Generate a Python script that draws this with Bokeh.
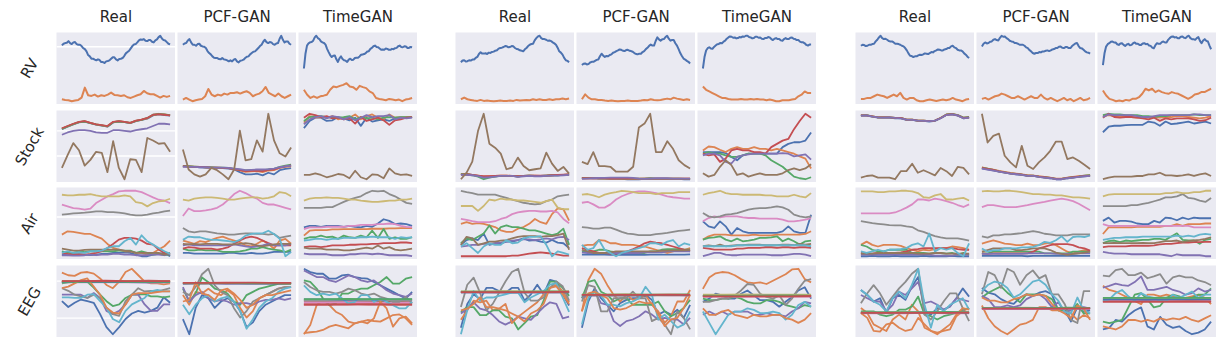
import numpy as np
from bokeh.plotting import figure
from bokeh.layouts import row, column
from bokeh.models import Spacer, Span
from bokeh.embed import file_html
from bokeh.resources import INLINE
from bokeh.core.properties import value

COLORS = {"blue": "#4C72B0", "orange": "#DD8452", "green": "#55A868", "red": "#C44E52",
          "purple": "#8172B3", "brown": "#937860", "pink": "#DA8BC3", "gray": "#8C8C8C",
          "olive": "#CCB974", "cyan": "#64B5CD"}

row_names = ["RV", "Stock", "Air", "EEG"]
col_names = ["Real", "PCF-GAN", "TimeGAN"]

# ---------------- Group 1 ----------------
g1_rv_real = {
    "blue": [192,197,199,200,205,199,196,201,202,196,194,194,190,184,181,174,163,159,152,152,149,147,150,148,142,142,139,144,145,147,152,156,156,150,147,151,152,154,160,168,172,176,183,190,195,196,201,207,210,209,211,206,205,208,208,203,201,207,210,217,221,213,208,207,202,197,195],
    "orange": [30,28,27,24,26,28,35,65,42,40,44,38,42,40,44,50,43,42,40,42,36,34,38,42,45,55,48,45,45,40,35,40,37,40],
}
g1_rv_pcf = {
    "blue": [195,199,200,208,212,202,195,195,192,197,198,192,190,189,185,176,170,166,160,156,155,155,152,151,155,151,150,148,145,148,145,150,152,145,142,147,148,150,155,159,160,166,170,174,175,180,185,191,195,204,210,203,200,203,202,197,195,199,200,213,222,210,202,205,205,198,195],
    "orange": [30,35,30,25,28,30,32,40,62,45,40,45,42,48,45,50,50,52,48,52,55,50,40,45,48,55,68,50,45,40,48,40,35,40,45],
}
g1_rv_tg = {
    "blue": [125,170,195,202,205,206,210,220,225,218,215,208,205,203,198,185,175,166,160,164,165,153,145,156,162,154,150,149,145,152,155,151,152,157,158,158,162,167,168,169,172,177,178,185,188,193,195,191,190,186,182,183,182,186,185,182,182,185,184,187,188,193,195,191,190,193,192,188,188,191,190],
    "orange": [60,45,35,40,35,40,42,45,60,70,68,72,75,80,70,68,60,72,68,65,55,50,35,32,30,28,32,30,28,30,25,30,32,35],
}
g1_stock_real = {
    "blue": [175,183,190,196,199,194,189,186,183,196,199,197,194,200,204,208,218,221,219,217],
    "orange": [177,184,191,197,200,195,190,187,184,197,200,198,195,201,205,209,219,222,221,218],
    "green": [176,184,191,197,199,194,190,187,184,197,199,197,195,201,204,210,220,223,221,219],
    "red": [178,185,192,198,200,195,190,188,185,198,200,198,195,202,205,210,220,222,220,218],
    "purple": [158,165,170,172,172,170,165,164,164,172,172,170,168,172,175,178,185,192,192,190],
    "brown": [55,95,132,110,62,80,105,102,42,138,55,20,82,80,42,148,140,130,132,105],
}
g1_stock_pcf = {
    "blue": [60,59,58,57,56,55,55,54,53,50,42,35,35,37,32,40,35,48,52,54],
    "orange": [61,60,59,58,57,56,56,55,54,51,47,43,44,45,42,47,48,55,58,60],
    "green": [61,60,59,58,57,57,56,56,55,52,49,47,48,48,47,50,52,58,62,65],
    "red": [60,59,58,58,57,56,56,55,54,51,48,45,46,46,45,49,50,56,60,63],
    "purple": [59,58,58,57,57,56,56,56,55,53,51,48,49,50,50,51,53,57,60,62],
    "brown": [112,50,35,28,35,55,48,35,20,50,170,78,82,140,105,222,140,100,90,118],
}
g1_stock_tg = {
    "blue": [178,200,210,210,200,202,212,208,202,210,185,210,198,202,205,200,208,210,210,212],
    "orange": [195,215,210,212,210,215,205,210,210,220,205,215,220,210,205,220,210,212,212,212],
    "green": [200,212,215,215,212,210,210,212,215,205,212,208,210,205,210,212,210,212,212,212],
    "red": [210,222,218,212,215,208,210,205,208,192,212,200,205,210,202,188,202,205,210,212],
    "purple": [190,205,212,215,208,215,212,205,212,202,210,218,212,215,215,218,205,210,208,210],
    "brown": [35,35,40,35,28,32,38,35,25,48,28,22,37,35,25,55,40,35,37,32],
}
g1_air_real = {
    "blue": [30,28,32,30,30,28,30,32,32,35,35,37,35,30,25,25,30,32,35,25],
    "orange": [90,100,98,95,92,92,85,78,62,50,45,40,40,35,35,30,35,45,55,72],
    "green": [40,35,35,40,37,40,40,40,40,40,42,42,42,35,40,35,30,32,28,30],
    "red": [35,32,30,32,30,32,35,40,50,62,75,80,80,78,72,62,60,45,35,30],
    "purple": [28,28,27,27,28,30,28,30,30,32,32,30,30,28,28,28,30,30,28,32],
    "brown": [48,45,42,42,44,45,45,45,45,45,45,42,40,35,35,35,35,35,30,35],
    "pink": [180,175,170,168,165,168,185,195,205,212,220,222,222,222,218,210,202,195,192,185],
    "gray": [150,152,154,155,156,158,160,160,158,158,156,154,150,148,148,150,154,156,160,162],
    "olive": [210,208,208,210,210,212,208,205,205,205,205,208,205,188,185,175,185,190,192,198],
    "cyan": [35,40,35,37,35,40,40,42,50,55,55,70,80,60,88,70,60,50,40,32],
}
g1_air_pcf = {
    "blue": [32,32,30,30,30,30,30,30,32,32,30,30,32,30,30,32,35,35,35,35],
    "orange": [70,65,60,68,65,72,78,82,75,70,65,55,52,60,70,60,45,70,75,60],
    "green": [45,40,40,42,40,40,40,35,35,35,37,40,45,45,50,45,42,40,35,42],
    "red": [45,50,48,45,45,45,42,45,50,60,70,78,82,78,70,62,55,55,55,55],
    "purple": [55,58,55,55,55,55,55,55,55,58,55,52,50,52,55,60,55,55,55,60],
    "brown": [60,58,60,58,60,60,60,58,58,58,60,62,60,55,52,55,58,60,60,60],
    "pink": [145,168,160,160,162,165,170,180,195,212,222,215,205,198,185,180,180,175,170,165],
    "gray": [108,98,95,98,98,95,92,90,88,88,90,92,92,90,90,88,90,78,82,85],
    "olive": [195,192,198,200,202,202,200,198,195,195,198,200,202,202,198,200,205,218,215,205],
    "cyan": [72,82,80,80,75,72,72,70,68,65,72,85,90,92,92,100,90,75,22,35],
}
g1_air_tg = {
    "blue": [110,115,115,112,115,115,115,112,115,112,110,115,112,122,135,130,120,122,120,115],
    "orange": [85,100,102,102,102,104,104,105,105,105,105,105,106,106,106,107,107,108,108,108],
    "green": [75,80,80,85,80,82,75,85,80,78,85,80,100,78,105,75,80,75,75,80],
    "red": [50,52,52,50,52,55,55,55,57,57,58,58,60,60,62,62,62,64,64,62],
    "purple": [30,28,28,28,28,25,25,25,28,28,30,30,28,30,28,25,25,25,25,22],
    "brown": [48,45,45,45,42,42,42,40,40,42,45,48,45,55,45,50,42,40,42,45],
    "pink": [105,110,110,110,112,112,112,112,115,115,118,118,118,120,120,122,120,115,112,110],
    "gray": [170,170,170,170,172,172,180,188,195,200,205,215,222,220,222,212,205,195,185,182],
    "olive": [192,198,200,200,202,200,200,198,195,195,192,190,188,188,190,192,192,195,195,198],
    "cyan": [70,72,75,75,72,75,75,78,78,78,80,80,82,80,80,80,75,80,78,80],
}
g1_eeg_real = {
    "blue": [120,102,115,125,120,115,80,40,18,40,65,82,90,85,90,100,132,115],
    "orange": [208,200,198,208,210,205,190,170,160,180,210,220,200,180,175,175,172,175],
    "green": [175,178,180,180,180,162,140,120,105,110,130,140,140,142,135,135,132,135],
    "red": [182,182,181,182,183,182],
    "purple": [140,140,140,140,130,145,130,90,80,90,110,140,140,110,90,90,110,110],
    "brown": [180,180,179,180,181,180],
    "pink": [178,178,179,178,177,178],
    "gray": [160,152,140,135,130,140,130,100,80,75,120,140,160,150,152,150,155,160],
    "olive": [181,181,182,181,180,181],
    "cyan": [132,132,130,130,140,142,120,100,65,55,90,110,120,130,150,155,150,150],
    "blue2": [179,180,179,179,178,179],
    "orange2": [160,165,175,185,190,165,140,100,85,82,110,140,145,145,145,148,150,150],
    "green2": [180,180,181,180,180,180],
    "red2": [182,182,183,182,182,182],
}
g1_eeg_pcf = {
    "blue": [65,18,100,140,130,100,120,130,120,90,40,55,90,110,120,130,140,140],
    "orange": [140,110,150,145,160,145,140,155,140,100,70,90,130,140,150,160,165,165],
    "green": [160,120,145,195,180,160,155,145,120,110,140,150,160,165,170,175,175,175],
    "red": [178,178,179,178,177,178],
    "purple": [165,120,140,150,130,120,125,120,110,115,115,110,120,125,125,130,125,130],
    "brown": [176,176,177,176,176,176],
    "pink": [177,177,176,177,177,177],
    "gray": [150,140,165,205,222,170,150,140,100,70,90,120,130,140,150,160,165,165],
    "olive": [177,178,177,177,178,177],
    "cyan": [110,80,110,130,140,120,130,135,120,90,35,65,100,120,130,150,160,165],
    "blue2": [176,177,176,176,176,177],
    "orange2": [120,125,180,145,140,125,155,160,145,125,100,110,130,140,140,145,150,155],
    "green2": [177,177,178,177,177,177],
    "red2": [178,178,178,179,178,178],
}
g1_eeg_tg = {
    "blue": [220,210,205,205,190,190,200,202,195,192,190,180,170,160,150,140,130,150],
    "orange": [22,50,110,125,110,90,80,60,55,60,65,62,60,70,80,82,70,50],
    "green": [185,180,160,130,110,115,145,145,155,160,160,170,180,195,175,175,190,195],
    "red": [112,112,113,112,112,112],
    "purple": [215,205,195,195,185,180,190,200,195,185,180,185,170,155,145,140,135,145],
    "brown": [122,122,121,122,123,122],
    "pink": [118,118,119,118,117,118],
    "gray": [180,165,155,150,150,145,150,160,155,145,140,145,135,130,120,120,135,115],
    "olive": [125,125,126,125,125,126],
    "cyan": [170,150,140,145,140,145,130,115,120,140,140,120,130,120,110,100,100,120],
    "blue2": [127,127,126,127,127,127],
    "orange2": [25,28,30,35,45,50,45,40,55,60,55,70,120,100,45,70,75,55],
    "green2": [128,128,129,128,128,128],
    "red2": [112,112,112,113,112,112],
}

# ---------------- Group 2 ----------------
g2_rv_real = {
    "blue": [142,147,148,144,145,148,147,150,150,155,158,167,172,168,168,169,167,171,170,173,174,177,178,183,185,186,188,191,190,187,188,191,190,185,182,181,178,177,175,181,185,191,195,197,198,208,215,220,222,215,212,212,210,207,208,206,202,199,195,186,175,171,165,155,148,146,142],
    "orange": [30,35,30,28,26,25,28,25,26,25,24,25,26,25,25,26,25,28,26,27,28,27,30,28,30,28,28,30,28,30,30,32,30,32],
}
g2_rv_pcf = {
    "blue": [135,139,140,137,138,143,145,145,148,151,152,162,170,164,160,163,162,166,168,173,175,178,180,183,182,179,178,181,182,179,178,176,172,169,168,170,170,175,178,184,188,194,198,195,195,209,220,214,210,214,215,221,225,216,210,212,212,202,195,184,172,163,155,152,148,145,140],
    "orange": [30,45,35,30,30,28,28,26,25,26,25,24,25,25,26,25,25,25,26,28,27,30,28,27,28,30,32,30,35,32,30,28,30,28],
}
g2_rv_tg = {
    "blue": [125,160,180,187,190,186,185,191,195,199,200,203,202,207,210,216,220,223,222,219,220,217,218,221,220,223,222,225,225,221,220,217,218,222,222,219,220,216,215,218,218,221,220,215,212,216,218,215,215,211,210,215,218,215,215,219,220,216,215,212,212,207,205,205,202,197,195,198,198],
    "orange": [70,60,55,50,45,40,35,35,32,30,30,30,32,30,30,32,30,32,30,30,28,30,28,25,25,28,28,28,30,32,40,45,55,50,50],
}
g2_stock_real = {
    "blue": [40,40,38,35,30,32,34,35,35,35,33,35,36,35,35,36,37,37,38,38],
    "orange": [40,40,38,36,33,34,35,36,36,35,34,35,36,36,35,36,37,38,38,39],
    "green": [40,40,37,33,25,30,33,35,35,35,34,35,36,35,35,36,37,37,38,39],
    "red": [39,40,38,36,34,34,35,36,36,35,34,35,36,36,36,36,37,38,39,40],
    "purple": [38,38,37,34,30,31,33,35,35,35,32,34,35,34,34,35,36,36,37,38],
    "brown": [25,45,78,170,222,132,120,102,55,60,90,65,52,55,58,105,72,50,62,42],
}
g2_stock_pcf = {
    "blue": [26,26,25,24,24,23,23,23,22,22,22,23,24,23,23,23,23,23,22,22],
    "orange": [25,25,25,25,24,24,24,24,23,23,23,24,24,24,24,24,24,24,24,24],
    "green": [26,26,26,25,25,25,25,24,24,24,24,24,25,24,24,24,24,24,23,23],
    "red": [25,25,25,25,25,24,24,24,24,24,24,24,24,24,24,24,24,24,24,24],
    "purple": [23,24,25,26,26,27,27,27,27,26,24,23,24,25,25,25,24,24,24,24],
    "brown": [75,68,105,62,62,60,45,45,45,60,180,192,222,105,105,138,115,80,65,55],
}
g2_stock_tg = {
    "blue": [105,105,105,105,102,90,80,95,100,100,100,100,100,100,120,130,135,135,140,165],
    "orange": [110,122,120,112,105,115,120,115,115,120,115,115,110,115,110,105,100,92,85,55],
    "green": [100,105,100,100,95,90,90,95,100,100,100,95,80,70,60,45,30,25,22,28],
    "red": [100,95,98,75,85,110,115,110,110,105,105,100,120,130,140,145,175,200,222,210],
    "purple": [95,100,100,95,75,70,90,95,98,100,100,100,100,100,102,100,92,95,98,82],
    "brown": [40,30,35,60,80,65,35,40,30,35,40,35,35,35,40,50,55,50,55,68],
}
g2_air_real = {
    "blue": [55,70,75,70,90,55,60,60,65,65,70,75,68,70,65,62,70,62,60,45],
    "orange": [120,125,120,122,120,115,110,100,95,95,105,110,120,135,125,120,150,168,165,130],
    "green": [60,75,70,80,90,115,90,110,115,110,110,105,100,100,95,90,85,90,105,55],
    "red": [20,20,20,20,20,20,20,20,20,22,22,25,28,30,32,30,28,25,22,22],
    "purple": [50,52,55,55,58,58,60,62,65,68,70,72,72,70,72,75,72,78,80,70],
    "brown": [55,80,75,55,60,65,65,68,70,75,80,82,82,82,80,82,82,85,90,40],
    "pink": [135,132,128,125,125,125,128,135,140,150,155,158,160,160,158,158,160,155,135,122],
    "gray": [222,218,215,210,210,210,210,205,200,195,190,185,182,180,182,190,195,205,208,210],
    "olive": [175,175,175,160,175,195,192,198,195,195,192,192,190,188,185,190,195,170,165,165],
    "cyan": [50,60,45,30,50,60,55,55,70,60,62,75,80,80,82,55,20,35,30,25],
}
g2_air_pcf = {
    "blue": [25,25,25,25,25,24,24,24,24,24,24,24,25,25,25,25,25,25,25,26],
    "orange": [52,55,55,70,68,60,60,55,55,55,52,50,45,40,35,30,35,40,40,45],
    "green": [35,35,35,40,40,35,32,30,30,30,30,30,35,35,40,42,42,42,40,40],
    "red": [45,40,35,30,30,28,28,30,35,42,50,60,65,62,60,55,50,45,40,35],
    "purple": [32,30,30,30,30,30,30,30,30,30,30,32,32,32,32,35,35,35,35,35],
    "brown": [40,35,30,30,30,32,35,35,35,35,35,35,35,35,37,37,38,38,38,40],
    "pink": [185,188,180,170,170,180,195,205,212,218,220,220,218,215,210,205,202,200,198,198],
    "gray": [110,108,105,105,108,108,102,95,90,88,85,85,85,88,90,92,95,98,100,102],
    "olive": [210,212,208,202,210,215,218,222,220,218,215,215,215,212,215,215,215,218,218,218],
    "cyan": [55,40,45,70,40,30,20,30,35,40,45,50,60,60,55,65,70,50,60,55],
}
g2_air_tg = {
    "blue": [130,115,110,130,115,90,110,100,95,95,95,95,95,95,100,115,100,95,95,150],
    "orange": [75,85,90,90,90,88,88,88,88,90,88,88,88,90,90,90,90,90,92,100],
    "green": [75,80,82,85,75,70,78,70,72,75,80,80,82,85,70,78,70,60,70,72],
    "red": [50,48,45,45,45,45,48,48,50,50,50,52,52,50,52,52,50,52,52,50],
    "purple": [25,30,35,35,30,28,28,30,30,30,30,30,28,28,28,30,32,32,30,25],
    "brown": [55,58,55,60,55,57,58,58,60,60,60,58,58,58,60,60,58,62,60,62],
    "pink": [130,140,145,142,145,145,145,142,140,140,138,138,138,138,135,130,130,132,135,140],
    "gray": [155,145,142,145,150,152,155,160,165,168,170,170,172,175,172,165,150,145,142,145],
    "olive": [210,215,218,222,215,212,212,210,210,210,210,208,208,205,205,205,210,205,202,215],
    "cyan": [55,55,55,55,55,55,58,58,58,58,58,58,58,58,58,58,58,58,58,55],
}
g2_eeg_real = {
    "blue": [35,110,140,125,160,160,150,145,160,160,120,140,170,140,185,180,140,105],
    "orange": [60,90,120,115,120,90,95,90,80,70,85,100,115,140,160,170,150,115],
    "green": [85,100,100,75,75,90,90,70,65,30,50,70,75,120,180,180,160,135],
    "red": [147,147,148,147,147,147],
    "purple": [80,95,115,95,90,75,55,45,55,70,65,60,80,100,115,110,65,70],
    "brown": [146,146,145,146,146,146],
    "pink": [146,147,146,146,146,147],
    "gray": [100,170,192,145,90,110,145,180,210,220,145,120,120,130,160,180,165,120],
    "olive": [149,149,150,149,149,149],
    "cyan": [15,90,150,120,130,130,135,140,145,145,115,130,140,150,170,175,130,85],
    "blue2": [146,146,146,147,146,146],
    "orange2": [90,95,110,130,100,100,95,110,50,70,55,80,90,110,160,165,140,110],
    "green2": [148,148,148,148,149,148],
    "red2": [147,147,147,147,147,148],
}
g2_eeg_pcf = {
    "blue": [40,120,160,130,110,90,115,125,130,130,140,125,80,90,80,95,70,110],
    "orange": [90,185,220,205,170,140,120,140,125,130,140,110,90,55,75,120,120,155],
    "green": [130,180,185,150,140,120,130,130,110,110,110,110,120,90,75,85,100,125],
    "red": [140,140,141,140,140,140],
    "purple": [130,140,150,115,110,60,45,60,65,75,90,80,65,70,65,65,50,70],
    "brown": [139,139,138,139,139,139],
    "pink": [139,139,139,140,139,139],
    "gray": [120,170,165,90,90,130,130,130,150,130,130,60,70,50,20,90,70,35],
    "olive": [141,141,142,141,141,141],
    "cyan": [50,130,150,140,110,110,105,115,120,130,165,140,65,80,60,40,50,90],
    "blue2": [139,139,139,139,140,139],
    "orange2": [90,145,150,140,130,100,95,100,110,120,115,115,80,45,65,70,100,140],
    "green2": [141,141,141,141,141,142],
    "red2": [140,140,140,140,141,140],
}
g2_eeg_tg = {
    "blue": [120,130,145,140,130,130,145,155,140,125,125,120,105,120,135,155,165,130],
    "orange": [160,195,208,212,210,202,190,180,178,180,175,185,195,205,220,222,190,180],
    "green": [130,125,125,130,130,135,130,120,115,115,125,125,120,110,105,100,110,105],
    "red": [137,137,138,137,137,137],
    "purple": [80,90,80,90,80,90,90,90,80,80,85,80,80,75,90,100,120,115],
    "brown": [139,139,140,139,139,139],
    "pink": [136,136,136,137,136,136],
    "gray": [120,120,125,130,130,140,155,175,172,145,135,130,140,110,130,160,185,190],
    "olive": [142,142,143,142,142,142],
    "cyan": [90,55,20,50,80,90,90,100,95,85,85,90,85,65,80,110,120,105],
    "blue2": [138,138,138,139,138,138],
    "orange2": [100,80,80,90,95,80,75,70,80,75,75,80,80,70,65,55,65,85],
    "green2": [139,139,139,139,140,139],
    "red2": [137,137,137,137,137,138],
}

# ---------------- Group 3 ----------------
g3_rv_real = {
    "blue": [192,195,194,191,192,195,195,197,198,205,210,217,222,215,212,213,210,206,205,205,202,198,198,197,195,192,190,185,178,169,162,161,158,160,160,163,165,164,166,169,168,167,170,173,172,176,178,181,180,178,178,181,182,185,185,190,192,187,185,180,178,178,175,169,165,159,155],
    "orange": [32,32,35,35,40,45,42,40,35,40,45,40,50,35,30,35,35,28,25,25,28,30,28,26,28,30,28,30,35,30,28,25,30,32],
}
g3_rv_pcf = {
    "blue": [190,198,202,199,200,204,205,210,212,209,208,216,222,219,220,215,212,207,205,204,200,200,198,195,195,195,192,187,185,179,175,170,168,170,170,173,172,175,175,177,178,176,178,181,182,185,185,189,190,186,185,188,188,185,185,191,195,199,200,191,185,184,180,175,172,171,168],
    "orange": [32,35,30,35,40,42,48,45,40,35,35,40,35,30,35,40,35,35,45,35,30,35,30,25,30,35,28,32,25,30,35,28,30,35],
}
g3_rv_tg = {
    "blue": [135,170,190,197,200,204,205,202,202,197,195,199,200,195,192,196,198,194,195,200,202,198,198,195,195,199,200,197,198,193,192,187,185,194,200,198,198,203,205,202,202,210,215,219,220,217,218,215,215,219,220,216,215,220,222,215,212,212,210,215,218,207,200,208,212,207,205,193,182],
    "orange": [60,45,35,32,28,30,28,32,30,35,35,40,50,65,60,65,55,60,55,52,50,55,52,50,45,40,35,40,48,50,55,55,60,65],
}
g3_stock_real = {
    "blue": [217,217,214,211,211,211,209,209,204,204,201,201,199,201,209,219,221,217,209,211],
    "orange": [218,218,215,212,212,212,210,210,205,205,202,202,200,202,210,220,223,219,211,212],
    "green": [218,219,215,212,212,212,210,210,205,205,202,202,200,202,210,221,223,219,211,213],
    "red": [218,218,215,212,212,212,210,210,205,205,202,202,200,202,210,220,222,218,210,212],
    "purple": [217,218,214,212,211,212,210,209,205,204,202,201,200,202,209,219,221,218,209,211],
    "brown": [25,30,32,25,25,25,20,45,45,68,40,48,40,32,55,45,30,58,55,35],
}
g3_stock_pcf = {
    "blue": [57,54,51,47,44,41,39,37,34,34,31,29,27,24,24,27,29,31,33,34],
    "orange": [60,56,53,49,46,43,41,39,36,35,33,31,29,26,26,29,31,33,35,36],
    "green": [59,56,52,48,45,42,40,38,35,35,32,30,28,25,25,28,30,32,35,36],
    "red": [58,55,52,48,45,42,40,38,35,35,32,30,28,25,25,28,30,32,34,35],
    "purple": [56,53,50,47,44,41,39,37,34,34,31,29,27,24,24,27,29,31,33,34],
    "brown": [222,135,155,162,95,75,60,125,65,55,75,90,110,138,138,85,90,80,68,55],
}
g3_stock_tg = {
    "blue": [165,182,185,185,187,188,188,188,198,195,185,198,190,192,195,198,192,195,198,192],
    "orange": [215,218,215,215,215,212,210,212,210,212,210,212,212,215,215,212,210,208,210,215],
    "green": [218,222,220,220,218,218,218,215,215,212,215,215,218,218,218,218,220,218,218,218],
    "red": [210,222,212,210,212,212,210,208,205,210,200,208,205,208,208,208,205,200,202,210],
    "purple": [212,220,218,218,218,218,215,212,212,215,218,218,218,218,218,218,220,220,218,218],
    "brown": [20,25,28,28,28,28,30,30,35,35,40,32,32,30,32,35,30,35,38,30],
}
g3_air_real = {
    "blue": [20,20,21,20,20,20,21,20,20,20,20,21,20,20,20,20,21,20,20,20],
    "orange": [55,65,55,50,55,55,55,52,45,40,35,40,38,42,45,45,50,48,45,40],
    "green": [55,50,40,35,35,40,40,40,40,30,30,30,28,30,30,28,30,25,30,25],
    "red": [30,28,28,30,30,30,30,32,35,40,42,45,45,45,45,45,45,42,40,40],
    "purple": [25,25,25,25,25,25,25,25,25,25,25,25,25,22,22,22,22,25,25,25],
    "brown": [28,28,28,30,30,30,30,30,30,30,28,28,28,30,30,28,28,28,28,28],
    "pink": [152,152,152,152,152,152,155,162,170,180,195,195,192,198,195,190,185,178,172,180],
    "gray": [128,125,122,120,118,116,115,115,112,110,100,95,88,82,78,75,75,75,72,68],
    "olive": [220,220,220,218,218,220,220,222,222,220,215,202,200,208,212,195,195,198,200,192],
    "cyan": [35,30,35,40,35,40,40,42,45,55,60,50,90,35,45,40,45,30,20,60],
}
g3_air_pcf = {
    "blue": [22,22,22,23,22,22,22,22,21,22,22,22,22,22,23,22,22,22,22,22],
    "orange": [60,65,70,65,60,58,55,55,60,55,55,60,62,55,45,35,30,35,40,35],
    "green": [30,30,35,35,35,35,35,35,35,35,35,30,30,30,30,30,35,35,35,35],
    "red": [30,28,30,30,30,30,30,30,30,35,45,50,55,58,58,58,55,48,45,38],
    "purple": [28,28,28,28,28,28,28,28,30,30,30,30,30,28,28,28,28,30,30,30],
    "brown": [35,40,45,45,45,45,40,40,42,45,45,45,40,32,28,25,28,30,32,35],
    "pink": [172,178,178,175,172,172,172,175,178,182,185,188,192,195,198,195,190,182,172,162],
    "gray": [82,78,85,85,88,88,90,92,95,98,95,90,88,85,85,85,88,88,88,88],
    "olive": [220,222,220,220,222,222,220,218,215,212,212,210,210,208,208,205,202,202,200,198],
    "cyan": [45,35,40,40,45,45,45,48,48,50,55,65,62,70,82,65,80,82,80,85],
}
g3_air_tg = {
    "blue": [130,140,125,130,130,128,122,120,120,130,125,140,138,132,140,135,140,138,138,138],
    "orange": [90,110,110,110,110,110,112,112,112,112,112,115,115,120,115,120,120,120,122,122],
    "green": [62,68,70,65,70,68,70,72,72,75,75,72,82,92,72,70,70,60,72,75],
    "red": [50,52,52,52,52,54,54,54,54,55,58,60,60,62,64,64,65,65,66,66],
    "purple": [35,32,30,30,30,28,28,28,28,28,28,25,22,28,25,25,25,25,22,22],
    "brown": [62,62,63,62,62,62,62,63,62,62,65,68,68,70,65,68,70,72,75,80],
    "pink": [120,115,115,115,115,115,115,115,115,115,115,115,115,115,115,115,110,110,110,110],
    "gray": [175,175,175,175,175,178,178,182,185,190,195,202,202,205,212,200,198,192,188,200],
    "olive": [205,210,212,212,212,212,212,212,212,212,212,215,215,218,215,215,218,218,222,222],
    "cyan": [72,75,78,78,80,80,80,82,82,82,82,82,82,85,82,85,82,88,90,88],
}
g3_eeg_real = {
    "blue": [155,140,120,130,85,130,140,125,165,195,90,80,100,95,105,130,160,135],
    "orange": [100,85,50,40,30,65,80,65,110,90,40,30,25,30,35,75,90,100],
    "green": [90,90,90,80,75,80,95,95,105,135,80,75,65,75,80,85,95,100],
    "red": [85,85,86,85,85,85],
    "purple": [140,130,120,120,90,110,150,140,160,180,115,120,110,95,105,130,125,120],
    "brown": [86,86,85,86,86,86],
    "pink": [84,84,84,85,84,84],
    "gray": [115,145,170,145,110,135,160,180,205,220,80,65,90,120,145,145,100,60],
    "olive": [87,87,88,87,87,87],
    "cyan": [155,140,120,110,90,130,150,130,170,220,110,40,110,90,110,120,130,95],
    "blue2": [86,86,86,87,86,86],
    "orange2": [85,70,30,28,50,55,40,30,35,70,50,30,20,35,50,80,100,95],
    "green2": [87,87,87,87,88,87],
    "red2": [85,85,85,85,85,86],
}
g3_eeg_pcf = {
    "blue": [160,145,140,125,115,110,130,140,135,145,150,140,90,90,55,100,85,90],
    "orange": [105,65,40,25,15,30,45,50,60,100,100,90,90,90,80,60,75,65],
    "green": [130,145,155,165,145,130,115,140,140,140,135,125,90,90,90,110,80,80],
    "red": [95,95,96,95,95,95],
    "purple": [135,125,100,100,105,100,105,125,135,140,125,100,115,85,90,100,100,95],
    "brown": [96,96,95,96,96,96],
    "pink": [94,94,94,95,94,94],
    "gray": [140,210,200,160,220,210,170,200,215,190,200,140,140,110,60,50,150,150],
    "olive": [97,97,98,97,97,97],
    "cyan": [150,170,180,175,160,130,140,160,180,185,170,140,120,85,80,130,90,80],
    "blue2": [96,96,96,97,96,96],
    "orange2": [130,120,120,115,115,125,130,140,135,140,135,110,90,80,65,105,95,60],
    "green2": [97,97,97,97,98,97],
    "red2": [95,95,95,95,95,96],
}
g3_eeg_tg = {
    "blue": [30,35,60,55,75,90,100,40,30,70,45,35,40,25,15,20,30,55],
    "orange": [168,155,150,140,130,120,110,140,140,135,140,135,130,130,135,140,130,110],
    "green": [55,50,55,60,100,140,145,125,100,105,130,140,135,125,130,140,140,160],
    "red": [118,118,119,118,118,118],
    "purple": [162,168,175,170,168,180,198,155,155,160,165,155,150,140,145,160,150,155],
    "brown": [122,122,121,122,123,122],
    "pink": [120,120,121,120,119,120],
    "gray": [200,198,218,222,202,202,210,192,198,205,175,195,200,195,195,185,180,170],
    "olive": [128,128,129,128,128,129],
    "cyan": [120,125,145,155,135,120,145,135,130,120,120,140,130,140,150,130,140,140],
    "blue2": [125,125,124,125,125,125],
    "orange2": [40,35,30,40,60,60,55,60,55,65,60,65,62,70,60,55,65,75],
    "green2": [130,130,130,131,130,130],
    "red2": [118,118,118,118,119,118],
}

groups = [
    {"RV": [g1_rv_real, g1_rv_pcf, g1_rv_tg], "Stock": [g1_stock_real, g1_stock_pcf, g1_stock_tg],
     "Air": [g1_air_real, g1_air_pcf, g1_air_tg], "EEG": [g1_eeg_real, g1_eeg_pcf, g1_eeg_tg]},
    {"RV": [g2_rv_real, g2_rv_pcf, g2_rv_tg], "Stock": [g2_stock_real, g2_stock_pcf, g2_stock_tg],
     "Air": [g2_air_real, g2_air_pcf, g2_air_tg], "EEG": [g2_eeg_real, g2_eeg_pcf, g2_eeg_tg]},
    {"RV": [g3_rv_real, g3_rv_pcf, g3_rv_tg], "Stock": [g3_stock_real, g3_stock_pcf, g3_stock_tg],
     "Air": [g3_air_real, g3_air_pcf, g3_air_tg], "EEG": [g3_eeg_real, g3_eeg_pcf, g3_eeg_tg]},
]

# visible white grid lines (only in a few panels of the first group)
grid_lines = {(0, "RV", 0): [188], (0, "Stock", 0): [170, 92], (0, "Air", 0): [143], (0, "EEG", 0): [182, 68]}

PW, PH = 119, 72
INNER_GAP = 2
GROUP_GAPS = [38, 39]
LABEL_W = 56
HEADER_H = 32
TEXT_COLOR = "#262626"
FONT = "DejaVu Sans"


def blank(w, h):
    p = figure(width=w, height=h, x_range=(0, 1), y_range=(0, 1), x_axis_type=None, y_axis_type=None,
               toolbar_location=None, output_backend="svg", outline_line_color=None, min_border=0,
               background_fill_color="white", border_fill_color="white")
    return p


def make_panel(series, hlines, lw):
    allv = [v for s in series.values() for v in s]
    lo, hi = min(allv), max(allv)
    pad = 0.05 * (hi - lo)
    p = figure(width=PW, height=PH, x_range=(-0.05, 1.05), y_range=(lo - pad, hi + pad),
               x_axis_type=None, y_axis_type=None, toolbar_location=None, output_backend="svg",
               background_fill_color="#EAEAF2", border_fill_color="white", outline_line_color=None,
               min_border=0)
    for y in hlines:
        p.add_layout(Span(location=y, dimension="width", line_color="white", line_width=1.3, level="underlay"))
    for name, vals in series.items():
        xs = np.linspace(0, 1, len(vals))
        p.line(xs, vals, line_color=COLORS[name.rstrip("2")], line_width=lw, line_join="round")
    return p


def hrow(items_per_group, first):
    children = [first]
    for gi, items in enumerate(items_per_group):
        if gi > 0:
            children.append(Spacer(width=GROUP_GAPS[gi - 1], height=items[0].height))
        for ci, it in enumerate(items):
            if ci > 0:
                children.append(Spacer(width=INNER_GAP, height=it.height))
            children.append(it)
    return row(children, spacing=0)


# header row with column titles
header_groups = []
for gi in range(3):
    items = []
    for cname in col_names:
        t = blank(PW, HEADER_H)
        t.text(x=[0.5], y=[0.5], text=[cname], text_align="center", text_baseline="middle",
               text_font=value(FONT), text_font_size="15px", text_color=TEXT_COLOR)
        items.append(t)
    header_groups.append(items)
rows = [hrow(header_groups, Spacer(width=LABEL_W, height=HEADER_H))]

row_gaps = [6, 5, 6]
for ri, rname in enumerate(row_names):
    lab = blank(LABEL_W, PH)
    lab.text(x=[0.52], y=[0.5], text=[rname], angle=60, angle_units="deg", text_align="center",
             text_baseline="middle", text_font=value(FONT), text_font_size="15px", text_color=TEXT_COLOR)
    pgroups = []
    lw = 2.0 if rname == "RV" else 1.8
    for gi in range(3):
        items = []
        for ci in range(3):
            items.append(make_panel(groups[gi][rname][ci], grid_lines.get((gi, rname, ci), []), lw))
        pgroups.append(items)
    rows.append(hrow(pgroups, lab))
    if ri < 3:
        rows.append(Spacer(width=10, height=row_gaps[ri]))

layout = column(rows, spacing=0)
open("out.html", "w").write(file_html(layout, INLINE))
